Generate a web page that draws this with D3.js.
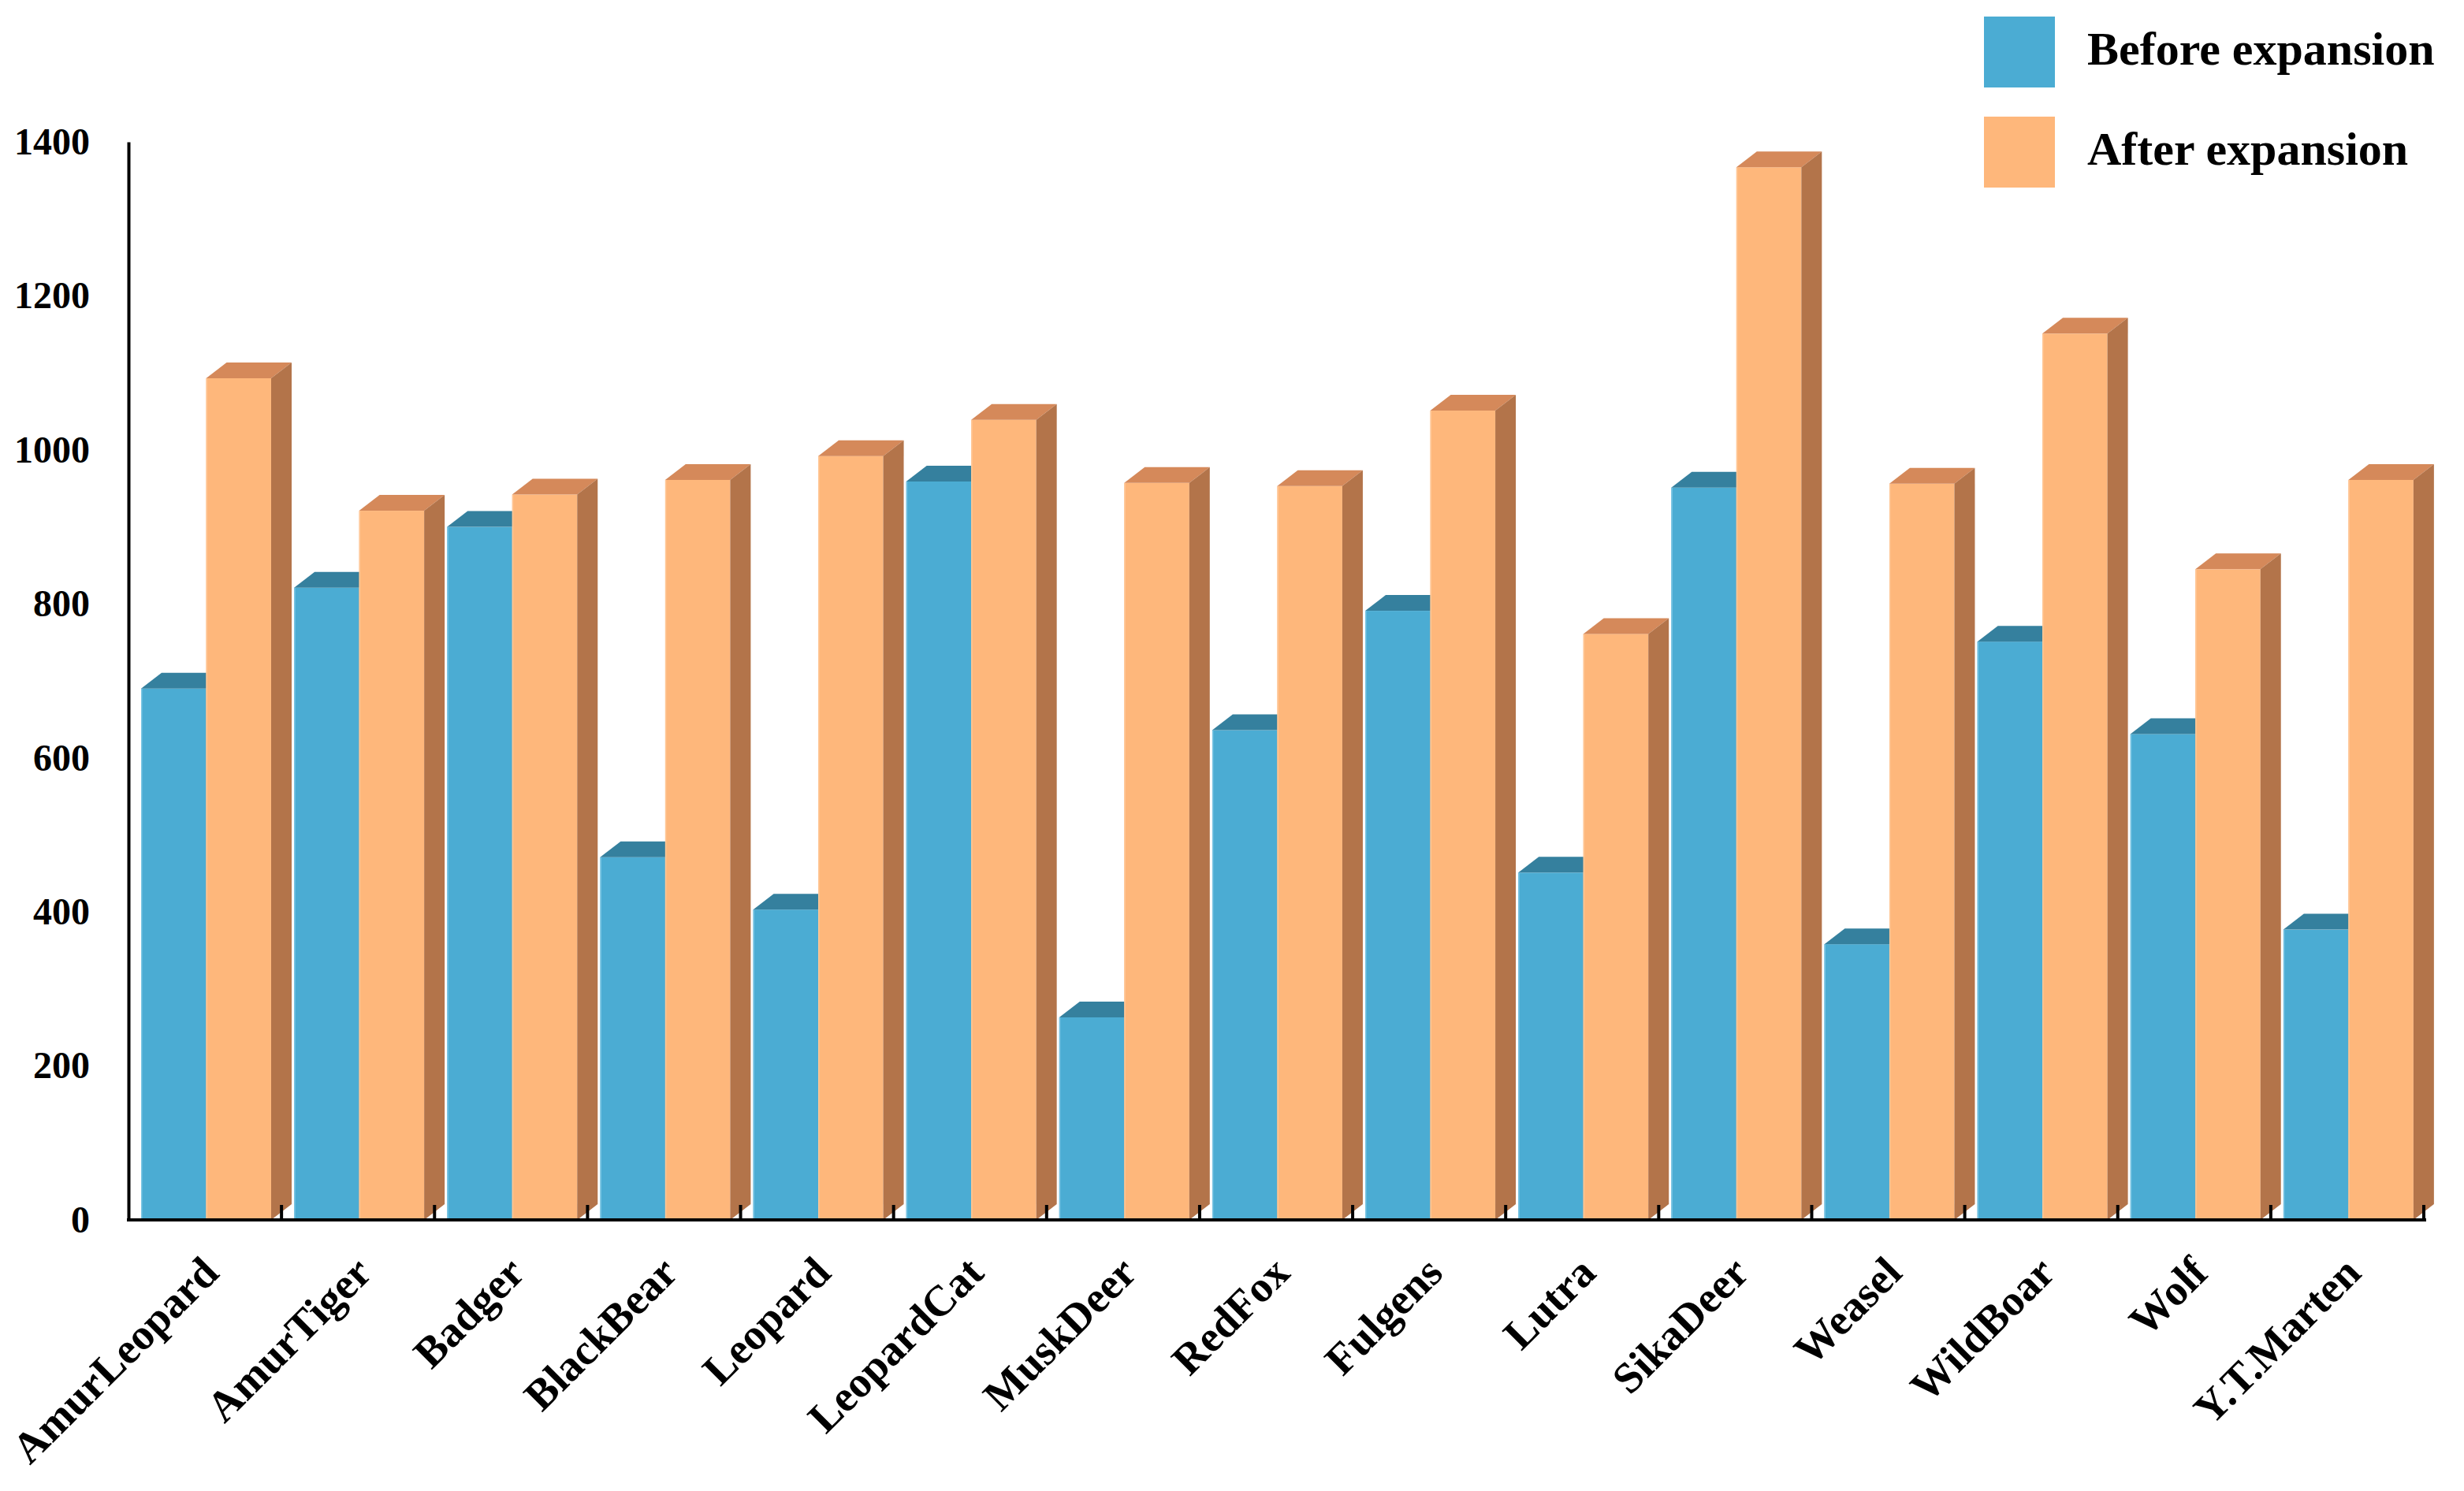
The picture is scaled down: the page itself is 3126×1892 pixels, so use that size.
<!DOCTYPE html>
<html>
<head>
<meta charset="utf-8">
<script src="https://cdn.jsdelivr.net/npm/d3@7"></script>
<style>
  html, body { margin: 0; padding: 0; background: #ffffff; }
  svg { display: block; }
  text { font-family: "Liberation Serif", "Times New Roman", serif; font-weight: bold; fill: #000; }
</style>
</head>
<body>
<script>
// ---- data ----
const categories = ["AmurLeopard","AmurTiger","Badger","BlackBear","Leopard","LeopardCat","MuskDeer","RedFox","Fulgens","Lutra","SikaDeer","Weasel","WildBoar","Wolf","Y.T.Marten"];
const beforeValues = [690, 821, 900, 471, 403, 959, 263, 636, 791, 451, 951, 358, 751, 631, 377];
const afterValues  = [1093, 921, 942, 961, 992, 1039, 957, 953, 1051, 761, 1367, 956, 1151, 845, 961];
const seriesNames = ["Before expansion", "After expansion"];
const yTicks = [0, 200, 400, 600, 800, 1000, 1200, 1400];

// ---- styles ----
const W = 3126, H = 1892;
const palette = {
  "Before expansion": { front: "#4BACD3", top: "#35809E", side: "#2E6E89", edge: "#7CC6E4" },
  "After expansion":  { front: "#FEB77B", top: "#D5895A", side: "#B3744A", edge: "#FFC898" }
};
const depthX = 26, depthY = 20;

const svg = d3.select("body").append("svg").attr("width", W).attr("height", H);
svg.append("rect").attr("width", W).attr("height", H).attr("fill", "#fff");

const x0 = d3.scaleBand().domain(categories).range([163, 3075]).paddingInner(0).paddingOuter(0);
const x1 = d3.scaleBand().domain(seriesNames).range([16, 181]);
const y = d3.scaleLinear().domain([0, 1400]).range([1548, 180]);

const rows = categories.map((c, i) => ({ cat: c, vals: [
  { s: seriesNames[0], v: beforeValues[i] },
  { s: seriesNames[1], v: afterValues[i] }
]}));

const barsG = svg.append("g");
rows.forEach(r => {
  r.vals.forEach(d => {
    const xl = x0(r.cat) + x1(d.s);
    const xr = xl + x1.bandwidth();
    const yt = y(d.v), yb = y(0);
    const col = palette[d.s];
    const g = barsG.append("g");
    // front
    g.append("rect").attr("x", xl).attr("y", yt).attr("width", xr - xl).attr("height", yb - yt)
      .attr("fill", col.front);
    g.append("line").attr("x1", xl + 0.75).attr("x2", xl + 0.75).attr("y1", yt).attr("y2", yb)
      .attr("stroke", col.edge).attr("stroke-width", 1.5);
    // top
    g.append("path").attr("d", `M${xl},${yt} L${xr},${yt} L${xr + depthX},${yt - depthY} L${xl + depthX},${yt - depthY} Z`)
      .attr("fill", col.top);
    // side
    g.append("path").attr("d", `M${xr},${yt} L${xr + depthX},${yt - depthY} L${xr + depthX},${yb - depthY} L${xr},${yb} Z`)
      .attr("fill", col.side);
  });
});

// ---- y axis ----
const yAxis = d3.axisLeft(y).tickValues(yTicks).tickFormat(d3.format("d")).tickSize(0).tickSizeOuter(0).tickPadding(49);
const yg = svg.append("g").attr("transform", `translate(${x0.range()[0]},0)`).call(yAxis);
yg.select(".domain").attr("stroke", "#000").attr("stroke-width", 4);
yg.selectAll("text").attr("font-size", 48).attr("font-family", "Liberation Serif").attr("font-weight", "bold").attr("fill", "#000");

// ---- x axis ----
const xg = svg.append("g");
xg.append("line").attr("x1", x0.range()[0] - 2).attr("x2", x0.range()[1] + 3)
  .attr("y1", y(0)).attr("y2", y(0)).attr("stroke", "#000").attr("stroke-width", 4);
categories.forEach((c, i) => {
  const xb = x0(c) + x0.bandwidth();
  xg.append("line").attr("x1", xb).attr("x2", xb).attr("y1", y(0)).attr("y2", y(0) - 19)
    .attr("stroke", "#000").attr("stroke-width", 4);
});
xg.selectAll("text.cat").data(categories).enter().append("text").attr("class", "cat")
  .attr("text-anchor", "end")
  .attr("font-size", 55)
  .attr("transform", d => `translate(${x0(d) + x0.bandwidth() / 2 + 20},${y(0) + 70}) rotate(-45)`)
  .text(d => d);

// ---- legend ----
const lg = svg.append("g");
seriesNames.forEach((s, i) => {
  const top = 21 + i * 127;
  lg.append("rect").attr("x", 2517).attr("y", top).attr("width", 90).attr("height", 90)
    .attr("fill", palette[s].front);
  lg.append("text").attr("x", 2648).attr("y", top + 61).attr("font-size", 60).text(s);
});
</script>
</body>
</html>
